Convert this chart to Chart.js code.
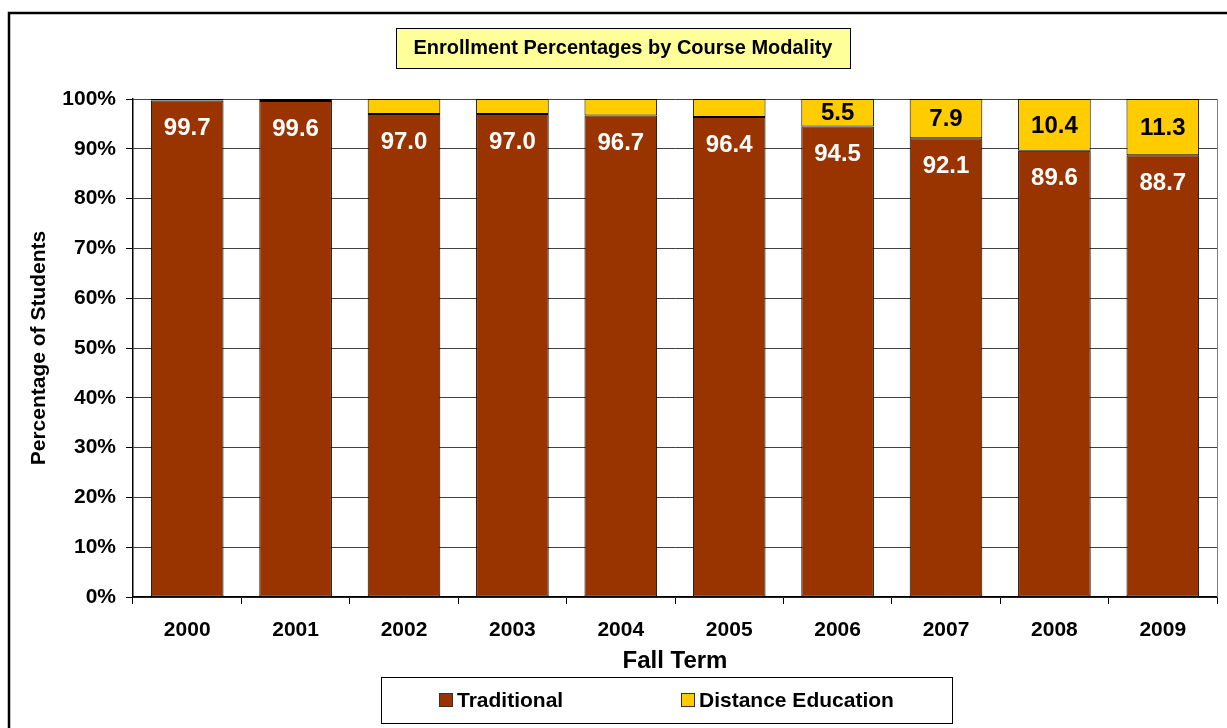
<!DOCTYPE html>
<html>
<head>
<meta charset="utf-8">
<script src="https://cdn.jsdelivr.net/npm/chart.js@4"></script>
<style>
  body { margin: 0; background: #fff; }
  canvas { display: block; }
</style>
</head>
<body>
<canvas id="modality" width="1227" height="728"></canvas>
<script>
var years = ["2000", "2001", "2002", "2003", "2004", "2005", "2006", "2007", "2008", "2009"];
var traditional = [99.7, 99.6, 97.0, 97.0, 96.7, 96.4, 94.5, 92.1, 89.6, 88.7];
var distance = [0.3, 0.4, 3.0, 3.0, 3.3, 3.6, 5.5, 7.9, 10.4, 11.3];
var showDistanceFrom = 5; // small yellow segments carry no label
var FONT = "'Liberation Sans', Arial, sans-serif";

// frame, title box, legend box, bar labels
var decor = {
  id: "decor",
  afterDraw: function (chart) {
    var c = chart.ctx;
    var area = chart.chartArea;
    c.save();

    // outer frame (runs off the right and bottom)
    c.strokeStyle = "#000";
    c.lineWidth = 2.5;
    c.strokeRect(9, 13, 1300, 800);

    // plot right edge
    c.strokeStyle = "#808080";
    c.lineWidth = 1;
    c.beginPath();
    c.moveTo(area.right + 0.5, area.top);
    c.lineTo(area.right + 0.5, area.bottom);
    c.stroke();

    // title
    c.fillStyle = "#FFFF99";
    c.fillRect(396, 28, 454, 40);
    c.strokeStyle = "#000";
    c.strokeRect(396.5, 28.5, 454, 40);
    c.fillStyle = "#000";
    c.font = "bold 20px " + FONT;
    c.textAlign = "center";
    c.textBaseline = "middle";
    c.fillText("Enrollment Percentages by Course Modality", 623, 48);

    // legend
    c.strokeStyle = "#000";
    c.strokeRect(381.5, 677.5, 571, 46);
    var items = [
      { text: "Traditional", color: "#993300", x: 439 },
      { text: "Distance Education", color: "#FFCC00", x: 681 }
    ];
    c.font = "bold 21px " + FONT;
    c.textAlign = "left";
    items.forEach(function (it) {
      c.fillStyle = it.color;
      c.fillRect(it.x, 693, 14, 14);
      c.strokeStyle = "#333";
      c.strokeRect(it.x + 0.5, 693.5, 13, 13);
      c.fillStyle = "#000";
      c.fillText(it.text, it.x + 18, 701);
    });

    // bar value labels
    c.font = "bold 24px " + FONT;
    c.textAlign = "center";
    chart.getDatasetMeta(0).data.forEach(function (bar, i) {
      c.fillStyle = "#fff";
      c.fillText(traditional[i].toFixed(1), bar.x, bar.y + 28);
    });
    chart.getDatasetMeta(1).data.forEach(function (bar, i) {
      if (distance[i] < showDistanceFrom) return;
      c.fillStyle = "#000";
      c.fillText(distance[i].toFixed(1), bar.x, (bar.y + bar.base) / 2 + 1);
    });

    c.restore();
  }
};

var ctx = document.getElementById("modality").getContext("2d");
var chart = new Chart(ctx, {
  type: "bar",
  data: {
    labels: years,
    datasets: [
      {
        label: "Traditional",
        data: traditional,
        backgroundColor: "#993300",
        borderColor: "#000",
        borderWidth: 1,
        borderSkipped: false,
        barPercentage: 0.67,
        categoryPercentage: 1
      },
      {
        label: "Distance Education",
        data: distance,
        backgroundColor: "#FFCC00",
        borderColor: "#000",
        borderWidth: 1,
        borderSkipped: false,
        barPercentage: 0.67,
        categoryPercentage: 1
      }
    ]
  },
  options: {
    responsive: false,
    animation: false,
    layout: { padding: { left: 27, top: 99, right: 10, bottom: 52 } },
    plugins: {
      legend: { display: false },
      title: { display: false },
      tooltip: { enabled: false }
    },
    scales: {
      x: {
        stacked: true,
        grid: { offset: true, drawOnChartArea: false, tickLength: 7, color: "#000" },
        border: { color: "#000", width: 1.5 },
        ticks: { color: "#000", padding: 14, font: { family: FONT, size: 21, weight: "bold" } },
        title: {
          display: true,
          text: "Fall Term",
          color: "#000",
          padding: 0,
          font: { family: FONT, size: 24, weight: "bold" }
        },
        afterFit: function (s) { s.height = 79; }
      },
      y: {
        stacked: true,
        min: 0,
        max: 100,
        grid: { color: "#404040", tickLength: 7, tickColor: "#000" },
        border: { color: "#000", width: 1.5 },
        ticks: {
          stepSize: 10,
          color: "#000",
          padding: 10,
          font: { family: FONT, size: 21, weight: "bold" },
          callback: function (v) { return v + "%"; }
        },
        title: {
          display: true,
          text: "Percentage of Students",
          color: "#000",
          padding: 0,
          font: { family: FONT, size: 21, weight: "bold" }
        },
        afterFit: function (s) { s.width = 106; }
      }
    }
  },
  plugins: [decor]
});
</script>
</body>
</html>
